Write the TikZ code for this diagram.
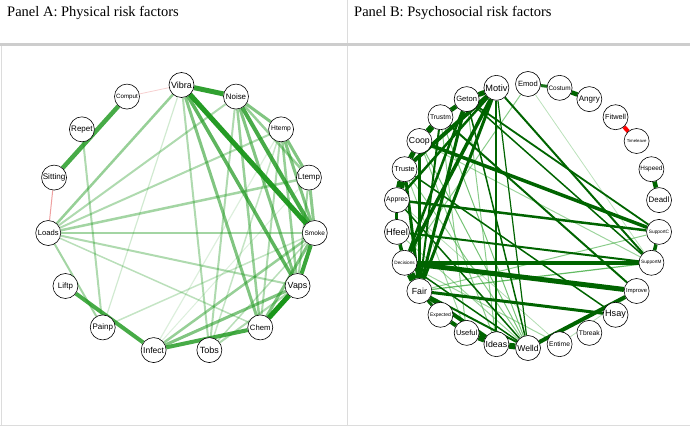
\documentclass[tikz,border=0pt]{standalone}
\usepackage{fontspec}
\setmainfont{Liberation Serif}
\newfontfamily\lblfont{Liberation Sans}
\definecolor{agreen}{RGB}{25,150,25}
\definecolor{bgreen}{RGB}{0,100,0}
\definecolor{lgreen}{RGB}{60,170,60}
\definecolor{negpink}{RGB}{238,160,160}
\definecolor{negred}{RGB}{255,0,0}
\definecolor{rulegray}{RGB}{205,205,205}
\pgfdeclarelayer{edges}
\pgfsetlayers{edges,main}
\tikzset{
	nd/.style={circle,draw=black,line width=0.6pt,fill=white,minimum size=25pt,inner sep=0pt,font=\lblfont\fontsize{#1}{#1}\selectfont},
	ea/.style args={#1/#2}{draw=agreen,line width=#1pt,draw opacity=#2},
	eb/.style args={#1/#2}{draw=bgreen,line width=#1pt,draw opacity=#2},
	el/.style args={#1/#2}{draw=lgreen,line width=#1pt,draw opacity=#2},
	head/.style={anchor=west,inner sep=0pt,font=\fontsize{14.5}{16}\selectfont}
}
\begin{document}
\begin{tikzpicture}[x=1pt,y=1pt]
	\useasboundingbox (0,0) rectangle (690,426);
	\draw[rulegray!70,line width=1pt] (347,0) -- (347,426);
	\draw[rulegray!70,line width=1pt] (1,0) -- (1,381) (0,1) -- (690,1);
	\draw[rulegray,line width=2.5pt] (0,381.5) -- (690,381.5);
	\node[head] (ta) at (7,413) {Panel A: Physical risk factors};
	\node[head] (tb) at (354,413) {Panel B: Psychosocial risk factors};
	\begin{scope}[shift={(181.5,207)}]
		\node[nd=9] (vibra) at (90:134) {Vibra};
		\node[nd=7.9] (noise) at (66:134) {Noise};
		\node[nd=6.7] (htemp) at (42:134) {Htemp};
		\node[nd=8] (ltemp) at (18:134) {Ltemp};
		\node[nd=6.5] (smoke) at (-6:134) {Smoke};
		\node[nd=8.9] (vaps) at (-30:134) {Vaps};
		\node[nd=7.7] (chem) at (-54:134) {Chem};
		\node[nd=9] (tobs) at (-78:134) {Tobs};
		\node[nd=8.5] (infect) at (-102:134) {Infect};
		\node[nd=8] (painp) at (-126:134) {Painp};
		\node[nd=7.9] (liftp) at (-150:134) {Liftp};
		\node[nd=7.6] (loads) at (-174:134) {Loads};
		\node[nd=8.1] (sitting) at (162:134) {Sitting};
		\node[nd=8] (repet) at (138:134) {Repet};
		\node[nd=6.2] (comput) at (114:134) {Comput};
	\end{scope}
	\begin{scope}[shift={(528,210)}]
		\node[nd=7.6] (emod) at (90:132) {Emod};
		\node[nd=6.4] (costum) at (76.15:132) {Costum};
		\node[nd=8] (angry) at (62.31:132) {Angry};
		\node[nd=7.3] (fitwell) at (48.46:132) {Fitwell};
		\node[nd=4.3] (timeleave) at (34.62:132) {Timeleave};
		\node[nd=6.4] (hspeed) at (20.77:132) {Hspeed};
		\node[nd=7.9] (deadl) at (6.92:132) {Deadl};
		\node[nd=4.8] (supportc) at (-6.92:132) {SupportC};
		\node[nd=4.7] (supportm) at (-20.77:132) {SupportM};
		\node[nd=5.8] (improve) at (-34.62:132) {Improve};
		\node[nd=9.1] (hsay) at (-48.46:132) {Hsay};
		\node[nd=6.7] (tbreak) at (-62.31:132) {Tbreak};
		\node[nd=6.7] (entime) at (-76.15:132) {Entime};
		\node[nd=8.6] (welld) at (-90:132) {Welld};
		\node[nd=8.8] (ideas) at (-103.85:132) {Ideas};
		\node[nd=7.5] (useful) at (-117.69:132) {Useful};
		\node[nd=5] (expected) at (-131.54:132) {Expected};
		\node[nd=8.8] (fair) at (-145.38:132) {Fair};
		\node[nd=4.7] (decisions) at (-159.23:132) {Decisions};
		\node[nd=9.3] (hfeel) at (-173.08:132) {Hfeel};
		\node[nd=6.8] (apprec) at (173.08:132) {Apprec};
		\node[nd=7.3] (truste) at (159.23:132) {Truste};
		\node[nd=8.7] (coop) at (145.38:132) {Coop};
		\node[nd=6.8] (trustm) at (131.54:132) {Trustm};
		\node[nd=7.6] (geton) at (117.69:132) {Geton};
		\node[nd=9.2] (motiv) at (103.85:132) {Motiv};
	\end{scope}
	\begin{pgfonlayer}{edges}
		\draw[negpink,line width=0.8pt,draw opacity=0.5] (vibra) -- (comput);
		\draw[negpink,line width=1pt] (sitting) -- (loads);
		\draw[ea=1.2/0.2] (vibra) -- (painp);
		\draw[ea=1/0.15] (infect) -- (ltemp);
		\draw[ea=1.2/0.15] (infect) -- (htemp);
		\draw[ea=1.5/0.25] (painp) -- (smoke);
		\draw[ea=1.5/0.25] (tobs) -- (htemp);
		\draw[ea=1.5/0.3] (smoke) -- (tobs);
		\draw[ea=1.5/0.3] (chem) -- (loads);
		\draw[ea=2/0.35] (vibra) -- (tobs);
		\draw[ea=2/0.35] (noise) -- (tobs);
		\draw[ea=2/0.35] (noise) -- (loads);
		\draw[ea=2/0.35] (htemp) -- (chem);
		\draw[ea=2/0.35] (htemp) -- (loads);
		\draw[ea=2/0.35] (vaps) -- (tobs);
		\draw[ea=2/0.35] (vaps) -- (loads);
		\draw[ea=2/0.35] (repet) -- (painp);
		\draw[ea=2/0.4] (ltemp) -- (vaps);
		\draw[ea=2/0.4] (loads) -- (painp);
		\draw[ea=2.5/0.4] (ltemp) -- (loads);
		\draw[ea=2.5/0.4] (smoke) -- (loads);
		\draw[ea=2.5/0.45] (vibra) -- (loads);
		\draw[ea=2.5/0.45] (noise) -- (ltemp);
		\draw[ea=2.5/0.45] (noise) -- (chem);
		\draw[ea=2.5/0.45] (htemp) -- (vaps);
		\draw[ea=2.5/0.45] (smoke) -- (infect);
		\draw[ea=3/0.5] (ltemp) -- (smoke);
		\draw[ea=3/0.55] (vibra) -- (chem);
		\draw[ea=3/0.55] (noise) -- (htemp);
		\draw[ea=3/0.55] (noise) -- (vaps);
		\draw[ea=3/0.55] (htemp) -- (ltemp);
		\draw[ea=3/0.55] (htemp) -- (smoke);
		\draw[ea=3/0.55] (smoke) -- (chem);
		\draw[ea=3/0.55] (vaps) -- (infect);
		\draw[ea=3.5/0.7] (vibra) -- (vaps);
		\draw[ea=4/0.8] (noise) -- (smoke);
		\draw[ea=4/0.85] (smoke) -- (vaps);
		\draw[ea=4/0.8] (chem) -- (infect);
		\draw[ea=4/0.8] (liftp) -- (infect);
		\draw[ea=4.5/0.8] (comput) -- (sitting);
		\draw[ea=5/0.9] (vibra) -- (noise);
		\draw[ea=5/0.95] (vibra) -- (smoke);
		\draw[ea=5/1] (vaps) -- (chem);
		\draw[el=0.8/0.35] (emod) -- (supportm);
		\draw[el=1/0.6] (emod) -- (decisions);
		\draw[el=0.8/0.4] (improve) -- (entime);
		\draw[el=0.8/0.4] (apprec) -- (entime);
		\draw[el=1/0.5] (decisions) -- (entime);
		\draw[el=1/0.5] (hfeel) -- (welld);
		\draw[el=1/0.5] (truste) -- (useful);
		\draw[el=1/0.5] (coop) -- (supportm);
		\draw[el=1/0.6] (truste) -- (welld);
		\draw[el=1/0.6] (fair) -- (supportc);
		\draw[el=1/0.6] (coop) -- (ideas);
		\draw[el=1/0.6] (trustm) -- (useful);
		\draw[el=1/0.6] (geton) -- (ideas);
		\draw[el=1/0.7] (coop) -- (welld);
		\draw[el=1/0.7] (trustm) -- (welld);
		\draw[el=1.2/0.8] (fair) -- (supportm);
		\draw[eb=1.2/1] (motiv) -- (welld);
		\draw[eb=1.5/1] (geton) -- (supportm);
		\draw[eb=1.5/1] (geton) -- (welld);
		\draw[eb=1.5/1] (apprec) -- (welld);
		\draw[eb=1.5/1] (decisions) -- (welld);
		\draw[eb=1.5/1] (truste) -- (hsay);
		\draw[eb=1.8/1] (geton) -- (supportc);
		\draw[eb=2/1] (motiv) -- (supportm);
		\draw[eb=2/1] (motiv) -- (ideas);
		\draw[eb=2/1] (trustm) -- (fair);
		\draw[eb=2/1] (trustm) -- (improve);
		\draw[eb=2/1] (hfeel) -- (supportm);
		\draw[eb=2/1] (fair) -- (welld);
		\draw[eb=2.5/1] (motiv) -- (apprec);
		\draw[eb=2.5/1] (geton) -- (decisions);
		\draw[eb=2.5/1] (coop) -- (fair);
		\draw[eb=2.5/1] (apprec) -- (supportc);
		\draw[eb=3/1] (motiv) -- (fair);
		\draw[eb=3/1] (geton) -- (fair);
		\draw[eb=3/1] (truste) -- (fair);
		\draw[eb=3/1] (fair) -- (hsay);
		\draw[eb=3/0.9] (emod) -- (costum);
		\draw[eb=3/1] (apprec) -- (hfeel);
		\draw[eb=3/1] (fair) -- (expected);
		\draw[eb=3.5/1] (motiv) -- (decisions);
		\draw[eb=3.5/1] (coop) -- (supportc);
		\draw[eb=3.5/1] (decisions) -- (supportm);
		\draw[eb=3.5/1] (hfeel) -- (decisions);
		\draw[eb=3.5/1] (supportc) -- (supportm);
		\draw[eb=4/1] (motiv) -- (truste);
		\draw[eb=4/1] (expected) -- (useful);
		\draw[eb=4/1] (fair) -- (ideas);
		\draw[eb=4/1] (welld) -- (improve);
		\draw[eb=4.5/1] (costum) -- (angry);
		\draw[eb=4.5/1] (hspeed) -- (deadl);
		\draw[eb=4.5/1] (geton) -- (trustm);
		\draw[eb=5/1] (motiv) -- (geton);
		\draw[eb=5/1] (coop) -- (truste);
		\draw[eb=5/1] (decisions) -- (improve);
		\draw[eb=6/1] (trustm) -- (coop);
		\draw[eb=6/1] (useful) -- (ideas);
		\draw[eb=6/1] (ideas) -- (welld);
		\draw[eb=8/1] (truste) -- (apprec);
		\draw[eb=8/1] (decisions) -- (fair);
		\draw[negred,line width=4pt] (fitwell) -- (timeleave);
	\end{pgfonlayer}
\end{tikzpicture}
\end{document}
